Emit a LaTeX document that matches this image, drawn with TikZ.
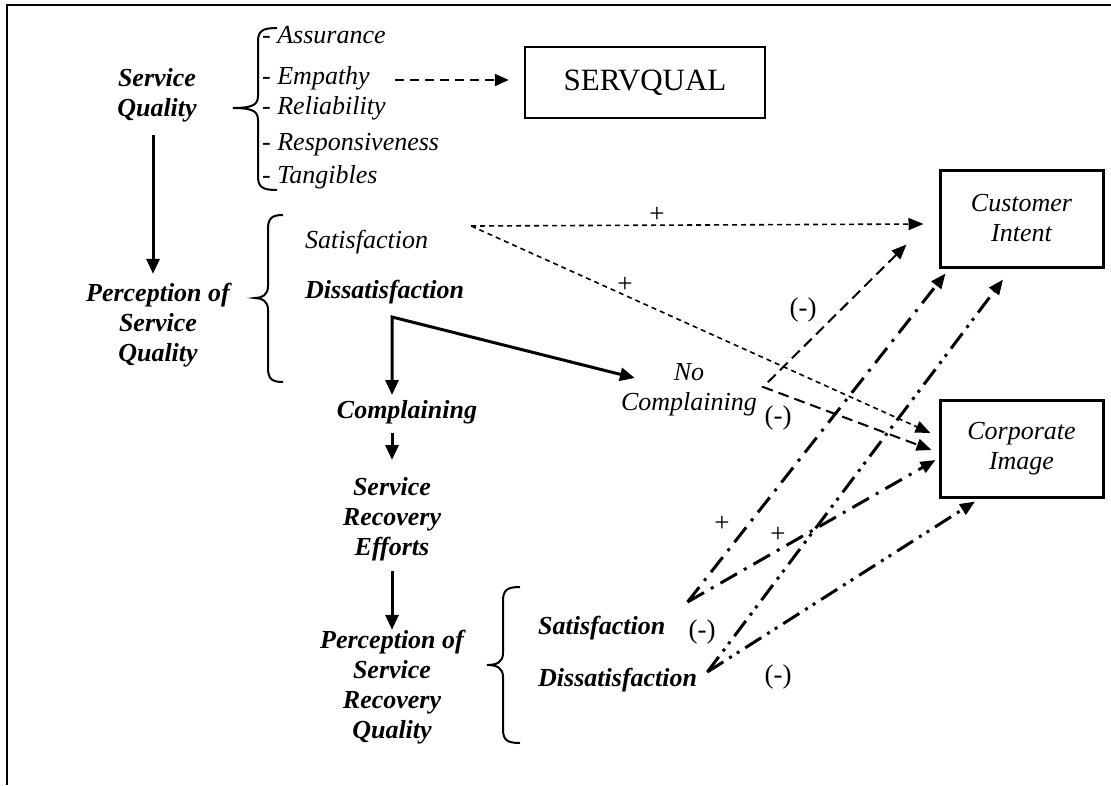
\documentclass[tikz,border=0pt]{standalone}
\usepackage{fontspec}
\setmainfont{Liberation Serif}
\usetikzlibrary{arrows.meta}

% curly brace: tip x, tip y, stem x, top y, bottom y, end x
\newcommand\curlybrace[6]{%
  \draw[bracestyle] (#6,#4) .. controls (#3+4,#4) and (#3,#4+3) .. (#3,#4+14)
    -- (#3,#2-12) .. controls (#3,#2-3) and (#3-6,#2) .. (#1,#2)
    .. controls (#3-6,#2) and (#3,#2+3) .. (#3,#2+12)
    -- (#3,#5-14) .. controls (#3,#5-3) and (#3+4,#5) .. (#6,#5);}

\begin{document}
\begin{tikzpicture}[x=1pt,y=-1pt,
  itxt/.style={font=\fontsize{26}{30}\selectfont\itshape, inner sep=0pt, align=center},
  btxt/.style={font=\fontsize{26}{30}\selectfont\bfseries\itshape, inner sep=0pt, align=center},
  rtxt/.style={font=\fontsize{27}{30}\selectfont, inner sep=0pt},
  outbox/.style={draw, line width=3pt, minimum width=163pt, minimum height=97pt, inner sep=0pt, align=center,
    font=\fontsize{26}{30}\selectfont\itshape},
  bracestyle/.style={line width=2pt},
  tip/.style={Triangle[length=14pt,width=12pt]},
  solidarrow/.style={line width=3pt, -{Triangle[length=15pt,width=13pt]}},
  pairarrow/.style={line width=3pt, {Triangle[length=15pt,width=13pt]}-{Triangle[length=15pt,width=13pt]}},
  servarrow/.style={line width=2.2pt, dash pattern=on 9pt off 6pt, -{Triangle[length=14pt,width=12pt]}},
  finedash/.style={line width=1.6pt, dash pattern=on 5pt off 4pt, -{Triangle[length=15pt,width=12pt]}},
  longdash/.style={line width=2pt, dash pattern=on 11pt off 6pt,
    {Triangle[length=15pt,width=12pt]}-{Triangle[length=15pt,width=12pt]}},
  dashdot/.style={line width=3pt, dash pattern=on 19pt off 8pt on 3pt off 8pt, -{Triangle[length=15pt,width=12pt]}},
  dashdotdot/.style={line width=3pt, dash pattern=on 19pt off 7pt on 3pt off 6pt on 3pt off 7pt, -{Triangle[length=15pt,width=12pt]}}
]
\useasboundingbox (0,0) rectangle (1111,785);

% open frame
\draw[line width=2pt] (7,785) -- (7,5) -- (1111,5);

% service quality and its dimensions
\node[btxt] (sq) at (157,95) {Service\\Quality};
\curlybrace{233}{108}{258}{28}{190}{277}
\node[itxt, anchor=west] (assu) at (262,35) {- Assurance};
\node[itxt, anchor=west] (emp) at (262,78) {- Empathy};
\node[itxt, anchor=west] (reli) at (262,108) {- Reliability};
\node[itxt, anchor=west] (resp) at (262,145) {- Responsiveness};
\node[itxt, anchor=west] (tang) at (262,177) {- Tangibles};
\node[draw, line width=2.5pt, minimum width=240pt, minimum height=71pt, inner sep=0pt,
  font=\fontsize{31}{34}\selectfont] (servqual) at (645,82.5) {SERVQUAL};
\draw[servarrow] ([xshift=25pt,yshift=-2pt]emp.east) -- ([xshift=-15pt,yshift=2.5pt]servqual.west);

% perception of service quality
\node[btxt] (psq) at (158,325) {Perception of\\Service\\Quality};
\draw[solidarrow] ([xshift=-4pt,yshift=-13pt]sq.south) -- ([xshift=-5pt,yshift=9pt]psq.north);
\curlybrace{255}{298}{268}{215}{382}{283}
\node[itxt, anchor=west] (sat1) at (305,242) {Satisfaction};
\node[btxt, anchor=west] (dsat1) at (305,292) {Dissatisfaction};

% outcome boxes
\node[outbox] (ci) at (1021.5,218.5) {Customer\\Intent};
\node[outbox] (co) at (1021.5,448.5) {Corporate\\Image};

% satisfaction paths
\coordinate (sfork) at ([xshift=43pt,yshift=16pt]sat1.east);
\draw[finedash] (sfork) -- ([xshift=-15pt,yshift=-5.5pt]ci.west);
\draw[finedash] (sfork) -- ([xshift=-8pt,yshift=15.5pt]co.west);
\node[rtxt] (plus1) at (657,215) {+};
\node[rtxt] (plus2) at (625,285) {+};

% complaining branch
\node[btxt] (comp) at (407,412) {Complaining};
\node[itxt] (nocomp) at (689,390) {No\\Complaining};
\coordinate (dcorner) at ([xshift=87pt,yshift=-25pt]dsat1.west);
\draw[pairarrow] ([xshift=-15pt,yshift=5pt]comp.north) -- (dcorner) -- ([xshift=14pt,yshift=12pt]nocomp.west);

\node[btxt] (sre) at (392,519) {Service\\Recovery\\Efforts};
\draw[solidarrow] ([xshift=-15pt,yshift=-9pt]comp.south) -- ([yshift=17pt]sre.north);
\node[btxt] (psrq) at (392,687) {Perception of\\Service\\Recovery\\Quality};
\draw[solidarrow] ([yshift=-10pt]sre.south) -- (psrq.north);

% no complaining effects
\coordinate (ncelbow) at ([xshift=6pt,yshift=3pt]nocomp.east);
\draw[longdash] ([xshift=-32pt,yshift=24pt]ci.south west) -- (ncelbow) -- ([xshift=-7pt,yshift=-1.5pt]co.west);
\node[rtxt] (neg1) at (803,310) {(-)};
\node[rtxt] (neg2) at (778,418) {(-)};

% recovery quality
\curlybrace{487}{665}{503}{587}{743}{520}
\node[btxt, anchor=west] (sat2) at (538,628) {Satisfaction};
\node[btxt, anchor=west] (dsat2) at (538,680) {Dissatisfaction};
\coordinate (s2pt) at ([xshift=22pt,yshift=26pt]sat2.east);
\coordinate (d2pt) at ([xshift=10pt,yshift=8pt]dsat2.east);
\draw[dashdot] (s2pt) -- ([xshift=7pt,yshift=-5pt]ci.south west);
\draw[dashdot] (s2pt) -- ([xshift=-3pt,yshift=-11.5pt]co.west);
\draw[dashdotdot] (d2pt) -- ([xshift=-18.5pt,yshift=-11pt]ci.south);
\draw[dashdotdot] (d2pt) -- ([xshift=-46.5pt,yshift=-3pt]co.south);
\node[rtxt] (plus3) at (722,524) {+};
\node[rtxt] (plus4) at (778,535) {+};
\node[rtxt] (neg3) at (702,632) {(-)};
\node[rtxt] (neg4) at (778,677) {(-)};
\end{tikzpicture}
\end{document}
